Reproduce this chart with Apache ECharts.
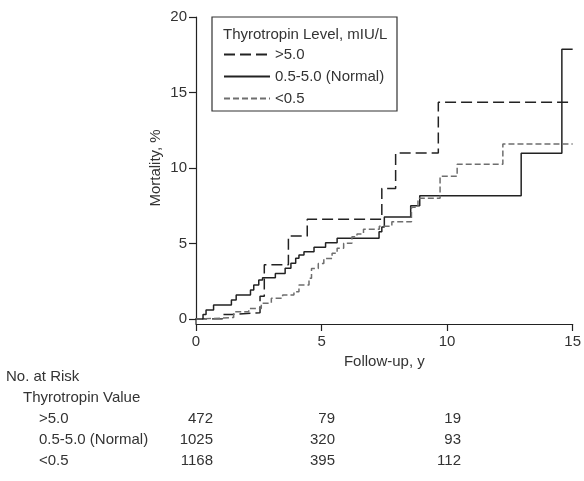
<!DOCTYPE html>
<html>
<head>
<meta charset="utf-8">
<title></title>
<style>
  html, body { margin: 0; padding: 0; background: #fff; }
  #chart { width: 584px; height: 481px; }
</style>
</head>
<body>
<div id="chart"></div>
<script src="https://cdn.jsdelivr.net/npm/echarts@6/dist/echarts.min.js"></script>
<script type="text/javascript">
// series names (legend order)
var groupNames = ['>5.0', '0.5-5.0 (Normal)', '<0.5'];

// step points: follow-up year of each jump and cumulative mortality (%) after it
var timeHigh = [0, 1.05, 1.45, 2.55, 2.72, 3.68, 4.43, 7.4, 7.95, 9.65, 15];
var mortHigh = [0, 0.3, 0.42, 1.5, 3.6, 5.5, 6.6, 8.65, 11.0, 14.35, 14.35];

var timeNormal = [0, 0.28, 0.4, 0.7, 1.41, 1.6, 2.17, 2.3, 2.5, 2.65, 3.16, 3.55, 3.78, 3.97, 4.1, 4.3, 4.7, 5.16, 5.62, 7.29, 7.4, 7.5, 8.55, 8.91, 12.95, 14.57, 15];
var mortNormal = [0, 0.3, 0.6, 0.93, 1.26, 1.59, 1.92, 2.25, 2.58, 2.74, 3.02, 3.36, 3.69, 4.02, 4.24, 4.46, 4.75, 5.05, 5.34, 5.78, 6.1, 6.76, 7.5, 8.17, 10.97, 17.86, 17.86];

var timeLow = [0, 0.25, 1.5, 2.1, 2.6, 3.0, 3.45, 3.9, 4.1, 4.5, 4.6, 4.87, 5.09, 5.42, 5.62, 5.88, 6.21, 6.41, 6.67, 7.3, 7.8, 8.58, 8.84, 9.72, 10.4, 12.22, 15];
var mortLow = [0, 0.1, 0.48, 0.7, 1.05, 1.38, 1.59, 1.81, 2.25, 2.7, 3.35, 3.68, 4.0, 4.35, 4.68, 5.01, 5.45, 5.63, 5.94, 6.15, 6.44, 7.4, 7.99, 9.45, 10.25, 11.59, 11.59];

// number at risk table
var riskTitle = 'No. at Risk';
var riskSubtitle = 'Thyrotropin Value';
var riskTimes = [0, 5, 10];
var riskHigh = [472, 79, 19];
var riskNormal = [1025, 320, 93];
var riskLow = [1168, 395, 112];

function pairs(xs, ys) {
  var out = [];
  for (var i = 0; i < xs.length; i++) out.push([xs[i], ys[i]]);
  return out;
}

var FONT = 'Liberation Sans';
var TXT = '#333';

var chart = echarts.init(document.getElementById('chart'), null, {renderer: 'canvas'});

// table texts
var riskRows = [riskHigh, riskNormal, riskLow];
var colRight = [213, 335, 461];
var rowY = [419, 440, 461];
var tableGraphics = [
  {type: 'text', x: 6, y: 377, style: {text: riskTitle, font: '15px ' + FONT, fill: TXT, verticalAlign: 'middle'}},
  {type: 'text', x: 23, y: 398, style: {text: riskSubtitle, font: '15px ' + FONT, fill: TXT, verticalAlign: 'middle'}}
];
for (var r = 0; r < riskRows.length; r++) {
  tableGraphics.push({type: 'text', x: 39, y: rowY[r], style: {text: groupNames[r], font: '15px ' + FONT, fill: TXT, verticalAlign: 'middle'}});
  for (var c = 0; c < riskTimes.length; c++) {
    tableGraphics.push({
      type: 'text', x: colRight[c], y: rowY[r],
      style: {text: String(riskRows[r][c]), font: '15px ' + FONT, fill: TXT, align: 'right', verticalAlign: 'middle'}
    });
  }
}

var option = {
  animation: false,
  backgroundColor: '#fff',
  textStyle: {fontFamily: FONT, color: TXT},
  grid: {left: 196, right: 8, top: 17, bottom: 162, containLabel: false},
  xAxis: {
    type: 'value', min: 0, max: 15, interval: 5,
    offset: 5,
    name: 'Follow-up, y', nameLocation: 'middle', nameGap: 21,
    nameTextStyle: {fontSize: 15, color: TXT, fontFamily: FONT},
    axisLine: {show: true, onZero: false, lineStyle: {color: '#222', width: 1.2}},
    axisTick: {show: true, inside: false, length: 7, lineStyle: {color: '#222', width: 1.2}},
    axisLabel: {fontSize: 15, color: TXT, margin: 10, fontFamily: FONT},
    splitLine: {show: false}
  },
  yAxis: {
    type: 'value', min: 0, max: 20, interval: 5,
    name: 'Mortality, %', nameLocation: 'middle', nameGap: 33, nameRotate: 90,
    nameMoveOverlap: false,
    nameTextStyle: {fontSize: 15, color: TXT, fontFamily: FONT},
    axisLine: {show: true, lineStyle: {color: '#222', width: 1.2}},
    axisTick: {show: true, inside: false, length: 7, lineStyle: {color: '#222', width: 1.2}},
    axisLabel: {fontSize: 15, color: TXT, margin: 9, fontFamily: FONT},
    splitLine: {show: false}
  },
  legend: {
    orient: 'vertical', left: 223, top: 47,
    itemWidth: 46, itemHeight: 14, itemGap: 7, padding: 0,
    itemStyle: {opacity: 0},
    textStyle: {fontSize: 15, color: TXT, fontFamily: FONT},
    data: groupNames
  },
  graphic: [
    {type: 'rect', shape: {x: 212, y: 17, width: 185, height: 94}, style: {fill: 'none', stroke: '#333', lineWidth: 1.2}, z: 10},
    {type: 'text', left: 223, top: 27, style: {text: 'Thyrotropin Level, mIU/L', font: '15px ' + FONT, fill: TXT}, z: 10},
    {type: 'line', shape: {x1: 196, y1: 318, x2: 196, y2: 324}, style: {stroke: '#222', lineWidth: 1.2}}
  ].concat(tableGraphics),
  series: [
    {
      name: groupNames[0], type: 'line', step: 'end', symbol: 'none',
      data: pairs(timeHigh, mortHigh),
      lineStyle: {color: '#222', width: 1.5, type: [11, 5]}, itemStyle: {color: '#222'}
    },
    {
      name: groupNames[1], type: 'line', step: 'end', symbol: 'none',
      data: pairs(timeNormal, mortNormal),
      lineStyle: {color: '#222', width: 1.5, type: 'solid'}, itemStyle: {color: '#222'}
    },
    {
      name: groupNames[2], type: 'line', step: 'end', symbol: 'none',
      data: pairs(timeLow, mortLow),
      lineStyle: {color: '#6e6e6e', width: 1.5, type: [6, 3]}, itemStyle: {color: '#6e6e6e'}
    }
  ]
};

chart.setOption(option);
</script>
</body>
</html>
